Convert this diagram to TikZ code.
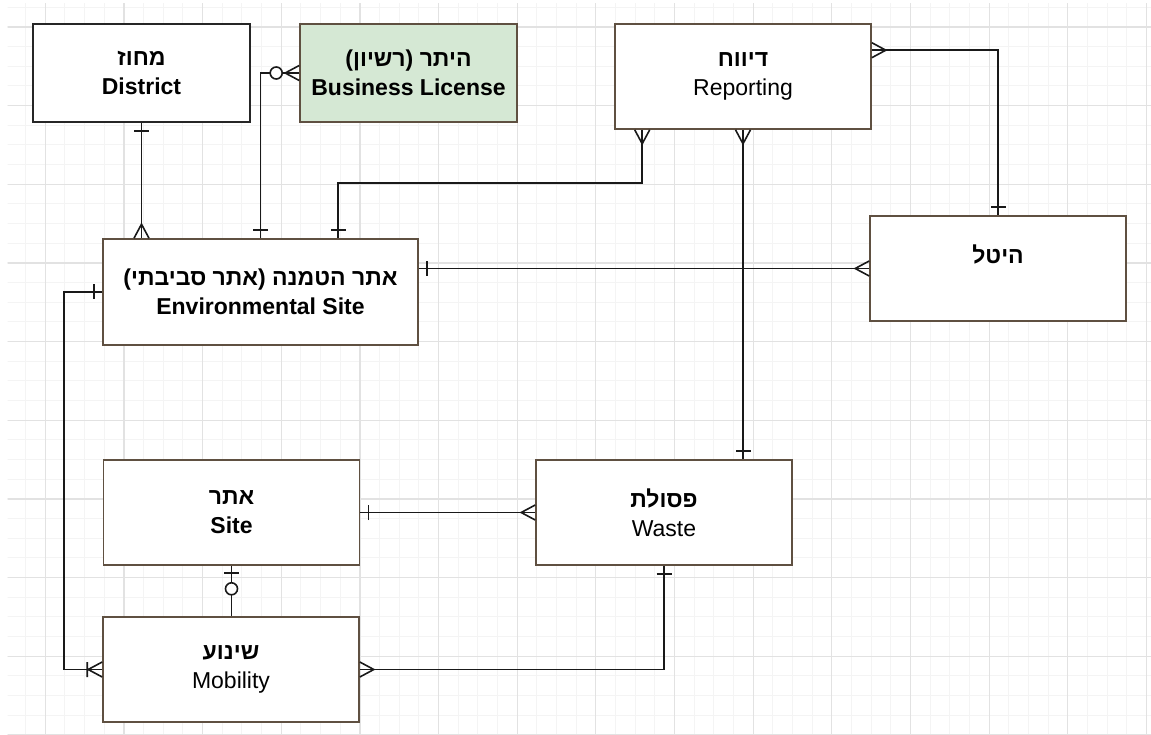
\documentclass[tikz,border=0pt]{standalone}
\usepackage{fontspec}
\setmainfont{Liberation Sans}
\newfontfamily\heb[Script=Hebrew]{Liberation Sans}
\TeXXeTstate=1
\usetikzlibrary{calc}

\definecolor{boxline}{RGB}{95,80,65}
\definecolor{lic}{RGB}{213,232,212}
\definecolor{connc}{RGB}{25,25,25}
\definecolor{gmaj}{RGB}{226,226,226}
\definecolor{gmin}{RGB}{244,244,244}

\newcommand\hb[1]{{\heb\beginR #1\endR}}

% crow's foot (many)
\pgfdeclarearrow{
  name=ermany,
  setup code={
    \pgfarrowssettipend{0pt}
    \pgfarrowssetlineend{0pt}
    \pgfarrowssetbackend{-14pt}
    \pgfarrowsupperhullpoint{0pt}{7.5pt}
    \pgfarrowsupperhullpoint{-14pt}{0pt}
  },
  drawing code={
    \pgfpathmoveto{\pgfqpoint{0pt}{7.5pt}}
    \pgfpathlineto{\pgfqpoint{-14pt}{0pt}}
    \pgfpathlineto{\pgfqpoint{0pt}{-7.5pt}}
    \pgfusepathqstroke
  }
}
% single bar (one)
\pgfdeclarearrow{
  name=erone,
  setup code={
    \pgfarrowssettipend{0pt}
    \pgfarrowssetlineend{0pt}
    \pgfarrowssetbackend{-8pt}
    \pgfarrowsupperhullpoint{0pt}{7.5pt}
    \pgfarrowsupperhullpoint{-8pt}{7.5pt}
  },
  drawing code={
    \pgfpathmoveto{\pgfqpoint{-8pt}{7.5pt}}
    \pgfpathlineto{\pgfqpoint{-8pt}{-7.5pt}}
    \pgfusepathqstroke
  }
}
% one to many
\pgfdeclarearrow{
  name=eromany,
  setup code={
    \pgfarrowssettipend{0pt}
    \pgfarrowssetlineend{0pt}
    \pgfarrowssetbackend{-15pt}
    \pgfarrowsupperhullpoint{0pt}{7.5pt}
    \pgfarrowsupperhullpoint{-15pt}{7.5pt}
  },
  drawing code={
    \pgfpathmoveto{\pgfqpoint{0pt}{7.5pt}}
    \pgfpathlineto{\pgfqpoint{-14pt}{0pt}}
    \pgfpathlineto{\pgfqpoint{0pt}{-7.5pt}}
    \pgfpathmoveto{\pgfqpoint{-15pt}{7.5pt}}
    \pgfpathlineto{\pgfqpoint{-15pt}{-7.5pt}}
    \pgfusepathqstroke
  }
}
% zero or many
\pgfdeclarearrow{
  name=erzmany,
  setup code={
    \pgfarrowssettipend{0pt}
    \pgfarrowssetlineend{0pt}
    \pgfarrowssetbackend{-29pt}
    \pgfarrowsupperhullpoint{0pt}{7.5pt}
    \pgfarrowsupperhullpoint{-29pt}{6pt}
  },
  drawing code={
    \pgfpathmoveto{\pgfqpoint{0pt}{7.5pt}}
    \pgfpathlineto{\pgfqpoint{-14pt}{0pt}}
    \pgfpathlineto{\pgfqpoint{0pt}{-7.5pt}}
    \pgfusepathqstroke
    \pgfpathcircle{\pgfqpoint{-23pt}{0pt}}{6pt}
    \pgfsetfillcolor{white}
    \pgfusepathqfillstroke
  }
}
% zero or one
\pgfdeclarearrow{
  name=erzone,
  setup code={
    \pgfarrowssettipend{0pt}
    \pgfarrowssetlineend{0pt}
    \pgfarrowssetbackend{-29pt}
    \pgfarrowsupperhullpoint{0pt}{7.5pt}
    \pgfarrowsupperhullpoint{-29pt}{6pt}
  },
  drawing code={
    \pgfpathmoveto{\pgfqpoint{-7pt}{7.5pt}}
    \pgfpathlineto{\pgfqpoint{-7pt}{-7.5pt}}
    \pgfusepathqstroke
    \pgfpathcircle{\pgfqpoint{-23pt}{0pt}}{6pt}
    \pgfsetfillcolor{white}
    \pgfusepathqfillstroke
  }
}

\tikzset{
  ent/.style={draw=boxline, line width=1.6pt, fill=white, minimum width=256pt,
    minimum height=105pt, align=center, inner sep=0pt,
    font=\fontsize{23}{29}\selectfont},
  connector/.style={draw=connc, line width=1.6pt},
  minorline/.style={draw=gmin, line width=1pt},
  majorline/.style={draw=gmaj, line width=1.2pt},
}

\begin{document}
\begin{tikzpicture}[x={(1pt,0pt)}, y={(0pt,-1pt)}]
\useasboundingbox (0,0) rectangle (1151,735);
\fill[white] (0,0) rectangle (1151,735);

% grid
\begin{scope}
\clip (7.6,4) rectangle (1151,735);
\foreach \i in {-1,...,56} \draw[minorline] ({45.3+\i*19.6625},0) -- ++(0,740);
\foreach \j in {-1,...,36} \draw[minorline] (0,{27+\j*19.6625}) -- ++(1160,0);
\foreach \i in {0,4,...,56} \draw[majorline] ({45.3+\i*19.6625},0) -- ++(0,740);
\foreach \j in {0,4,...,36} \draw[majorline] (0,{27+\j*19.6625}) -- ++(1160,0);
\end{scope}

% entities
\node[ent, draw=black!85, minimum width=217pt, minimum height=98pt] (district) at (141.5,73)
  {\textbf{\hb{מחוז}}\\\textbf{District}};
\node[ent, fill=lic, minimum width=217pt, minimum height=98pt] (license) at (408.5,73)
  {\textbf{\hb{היתר (רשיון)}}\\\textbf{Business License}};
\node[ent] (report) at (743,76.5) {\textbf{\hb{דיווח}}\\Reporting};
\node[ent, minimum width=315pt, minimum height=106pt] (env) at (260.5,292)
  {\textbf{\hb{אתר הטמנה (אתר סביבתי)}}\\\textbf{Environmental Site}};
\node[ent] (levy) at (998,268.5) {\textbf{\hb{היטל}}\\\mbox{}};
\node[ent] (site) at (231.5,512.5) {\textbf{\hb{אתר}}\\\textbf{Site}};
\node[ent] (waste) at (664,512.5) {\textbf{\hb{פסולת}}\\Waste};
\node[ent] (mob) at (231,669.5) {\textbf{\hb{שינוע}}\\Mobility};

% helper coordinates
\coordinate (lx) at (64,0);
\coordinate (ymid) at (0,183);
\coordinate (r1) at ($(report.south west)+(28,0)$);
\coordinate (e1) at ($(env.north west)+(236,0)$);
\coordinate (r2) at ($(report.north east)+(0,27)$);

% connectors
\draw[connector, erone-ermany] (district.south) -- (district.south |- env.north);
\draw[connector, erzmany-erone] (license.west) -| (env.north);
\draw[connector, ermany-erone] (r1) |- (ymid -| e1) -- (e1);
\draw[connector, erone-ermany] (levy.west -| env.east) -- (levy.west);
\draw[connector, ermany-erone] (r2) -| (levy.north);
\draw[connector, ermany-erone] (report.south) -- (report.south |- waste.north);
\draw[connector, erone-ermany] (site.east) -- (waste.west);
\draw[connector, erzone-] (site.south) -- (site.south |- mob.north);
\draw[connector, erone-ermany] (waste.south) |- (mob.east);
\draw[connector, erone-eromany] (env.west) -- (env.west -| lx) |- (mob.west);
\end{tikzpicture}
\end{document}
